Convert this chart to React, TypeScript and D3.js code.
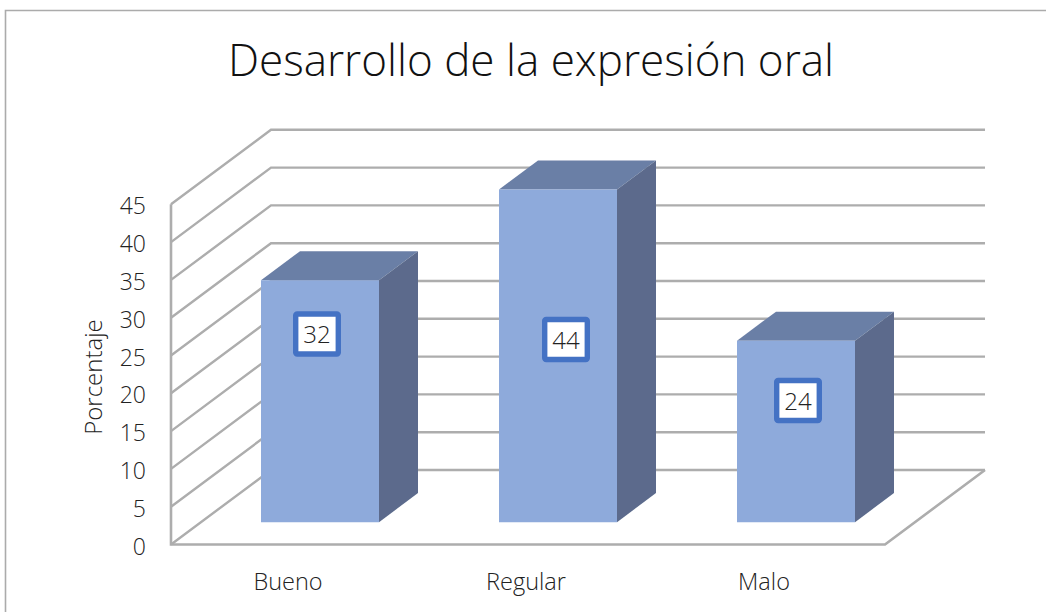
import React from "react";
import * as d3 from "d3";

const categories = ["Bueno", "Regular", "Malo"];
const values = [32, 44, 24];
const yTicks = [0, 5, 10, 15, 20, 25, 30, 35, 40, 45];
const title = "Desarrollo de la expresión oral";
const yTitle = "Porcentaje";

const W = 1046, H = 612;
const FONT = "'Open Sans', 'Noto Sans', sans-serif";
const TXT = "#222";
const GRID = "#adadad";

// plot frame (front plane)
const frontLeft = 171, frontRight = 885, frontBase = 544.5, frontTop = 204.3;
const depthX = 100, depthY = -74.5;

const x = d3.scaleBand<string>().domain(categories).range([frontLeft, frontRight]).paddingInner(120 / 238).paddingOuter(60 / 238);
const y = d3.scaleLinear().domain([0, 45]).range([frontBase, frontTop]);
const line = d3.line<[number, number]>();

// project to oblique 3D: px on the front plane, value v, depth z 0..1
const pt = (px: number, v: number, z: number): [number, number] => [px + depthX * z, y(v) + depthY * z];

const barZ0 = 0.3, barZ1 = 0.69;
// manual label placement relative to the bar's centre x and the value's y
const labelDx = [-3, 8, 2];
const labelY = [334, 339.5, 400.5];

export default function App() {
  return (
    <svg width={W} height={H} viewBox={`0 0 ${W} ${H}`} style={{ position: "absolute", left: 0, top: 0, display: "block", background: "#fff" }}>
      <defs>
        <filter id="soft" x="-5%" y="-5%" width="110%" height="110%">
          <feGaussianBlur stdDeviation="0.5" />
        </filter>
      </defs>
      <path d={line([[5.5, H], [5.5, 10.5], [W, 10.5]])!} fill="none" stroke="#ababab" strokeWidth={1.6} />
      <text x={531} y={76} textAnchor="middle" fontFamily={FONT} fontWeight={300} fontSize={44} fill="#111">{title}</text>

      <g fill="none" stroke={GRID} strokeWidth={2.4} filter="url(#soft)">
        {yTicks.map((t) => (
          <path key={t} d={line([pt(frontLeft, t, 0), pt(frontLeft, t, 1), pt(frontRight, t, 1)])!} />
        ))}
        <path d={line([pt(frontLeft, 45, 0), pt(frontLeft, 0, 0), pt(frontRight, 0, 0), pt(frontRight, 0, 1)])!} strokeWidth={2.6} />
      </g>

      <g filter="url(#soft)">
        {categories.map((c, i) => {
          const v = values[i];
          const x0 = x(c)!, x1 = x0 + x.bandwidth();
          return (
            <g key={c}>
              <path d={line([pt(x0, v, barZ0), pt(x1, v, barZ0), pt(x1, v, barZ1), pt(x0, v, barZ1)])! + "Z"} fill="#6b7fa6" />
              <path d={line([pt(x1, 0, barZ0), pt(x1, v, barZ0), pt(x1, v, barZ1), pt(x1, 0, barZ1)])! + "Z"} fill="#5b6b8c" />
              <path d={line([pt(x0, 0, barZ0), pt(x1, 0, barZ0), pt(x1, v, barZ0), pt(x0, v, barZ0)])! + "Z"} fill="#8eaadb" />
            </g>
          );
        })}
      </g>

      {categories.map((c, i) => {
        const cx = pt(x(c)! + x.bandwidth() / 2, 0, barZ0)[0] + labelDx[i];
        const cy = labelY[i];
        return (
          <g key={c}>
            <rect x={cx - 21.3} y={cy - 20} width={42.6} height={40} rx={1.5} fill="#fff" stroke="#4472c4" strokeWidth={5.4} />
            <text x={cx} y={cy + 9} textAnchor="middle" fontFamily={FONT} fontWeight={300} fontSize={24} fill={TXT}>{values[i]}</text>
          </g>
        );
      })}

      {yTicks.map((t) => (
        <text key={t} x={146} y={y(t) + 10} textAnchor="end" fontFamily={FONT} fontWeight={300} fontSize={23} fill={TXT}>{t}</text>
      ))}
      <text transform="translate(102,377) rotate(-90)" textAnchor="middle" fontFamily={FONT} fontWeight={300} fontSize={24} fill={TXT}>{yTitle}</text>
      {categories.map((c) => (
        <text key={c} x={x(c)! + x.bandwidth() / 2 - 2} y={590} textAnchor="middle" fontFamily={FONT} fontWeight={300} fontSize={23.5} fill={TXT}>{c}</text>
      ))}
    </svg>
  );
}
